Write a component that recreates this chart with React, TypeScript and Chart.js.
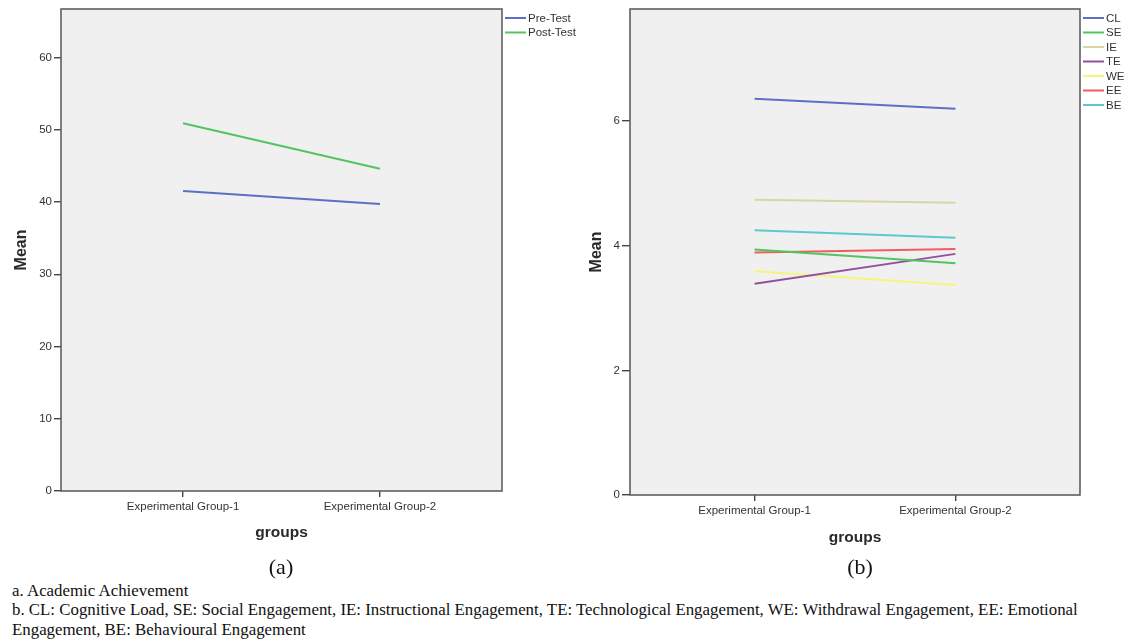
import React, { useEffect, useRef } from "react";
import { Chart, registerables } from "chart.js";

Chart.register(...registerables);

// ---- data ----
const groups = ["Experimental Group-1", "Experimental Group-2"];
const groupPositions = [1, 2];

const achievementSeries = ["Pre-Test", "Post-Test"];
const preTest = [41.5, 39.7];
const postTest = [50.9, 44.6];
const achievementTicks = [0, 10, 20, 30, 40, 50, 60];

const engagementSeries = ["CL", "SE", "IE", "TE", "WE", "EE", "BE"];
const clValues = [6.36, 6.2];
const seValues = [3.94, 3.72];
const ieValues = [4.74, 4.69];
const teValues = [3.39, 3.87];
const weValues = [3.59, 3.37];
const eeValues = [3.89, 3.95];
const beValues = [4.25, 4.13];
const engagementTicks = [0, 2, 4, 6];

// ---- styles ----
const SANS = "'Liberation Sans', Arial, sans-serif";
const COLORS_A = ["#5b70c4", "#52c462"];
const COLORS_B = ["#5b70c4", "#52c462", "#d8d4a6", "#93509f", "#f7f47c", "#ef5d61", "#5ec9cc"];

const panelPlugin = {
  id: "spssPanel",
  beforeDraw(chart: any) {
    const { ctx, chartArea } = chart;
    ctx.save();
    ctx.fillStyle = "#f0f0f0";
    ctx.fillRect(chartArea.left, chartArea.top, chartArea.right - chartArea.left, chartArea.bottom - chartArea.top);
    ctx.restore();
  },
  afterDraw(chart: any) {
    const { ctx, chartArea } = chart;
    ctx.save();
    ctx.strokeStyle = "#5f5f5f";
    ctx.lineWidth = 1.6;
    ctx.strokeRect(chartArea.left, chartArea.top, chartArea.right - chartArea.left, chartArea.bottom - chartArea.top);
    // legend
    const x0 = chartArea.right + 3;
    let y = chartArea.top + 9;
    ctx.font = `11.5px ${SANS}`;
    ctx.textBaseline = "middle";
    ctx.textAlign = "left";
    chart.data.datasets.forEach((ds: any) => {
      ctx.strokeStyle = ds.borderColor;
      ctx.lineWidth = 2;
      ctx.beginPath();
      ctx.moveTo(x0, y);
      ctx.lineTo(x0 + 21, y);
      ctx.stroke();
      ctx.fillStyle = "#333";
      ctx.fillText(ds.label, x0 + 23, y + 0.5);
      y += 14.5;
    });
    ctx.restore();
  },
};

type PanelProps = {
  left: number;
  width: number;
  height: number;
  series: string[];
  values: number[][];
  colors: string[];
  yMax: number;
  yTicks: number[];
  yAxisWidth: number;
  xAxisHeight: number;
  rightPad: number;
  meanPad: number;
  groupsPad: number;
  yTickLen: number;
};

function Panel(p: PanelProps) {
  const ref = useRef<HTMLCanvasElement | null>(null);
  useEffect(() => {
    if (!ref.current) return;
    const chart = new Chart(ref.current, {
      type: "line",
      data: {
        datasets: p.series.map((name, i) => ({
          label: name,
          data: groupPositions.map((x, j) => ({ x, y: p.values[i][j] })),
          borderColor: p.colors[i],
          backgroundColor: p.colors[i],
          borderWidth: 2,
          pointRadius: 0,
          tension: 0,
          fill: false,
        })),
      },
      options: {
        responsive: false,
        animation: false,
        devicePixelRatio: 1,
        layout: { padding: { top: 9, right: p.rightPad, left: 0, bottom: 0 } },
        plugins: { legend: { display: false }, tooltip: { enabled: false } },
        scales: {
          x: {
            type: "linear",
            min: 0.38,
            max: 2.62,
            afterBuildTicks: (s: any) => {
              s.ticks = groupPositions.map((v) => ({ value: v }));
            },
            afterFit: (s: any) => {
              s.height = p.xAxisHeight;
            },
            ticks: {
              autoSkip: false,
              maxRotation: 0,
              padding: 3,
              color: "#333",
              font: { family: SANS, size: 11.5 },
              callback: (v: any) => {
                const k = groupPositions.indexOf(Number(v));
                return k >= 0 ? groups[k] : "";
              },
            },
            grid: { display: true, drawOnChartArea: false, drawTicks: true, tickLength: 6, color: "#444", lineWidth: 1.4 },
            border: { display: false },
            title: {
              display: true,
              text: "groups",
              color: "#2a2a2a",
              font: { family: SANS, size: 15.5, weight: "bold" },
              padding: { top: 0, bottom: p.groupsPad },
            },
          },
          y: {
            type: "linear",
            min: 0,
            max: p.yMax,
            afterBuildTicks: (s: any) => {
              s.ticks = p.yTicks.map((v) => ({ value: v }));
            },
            afterFit: (s: any) => {
              s.width = p.yAxisWidth;
            },
            ticks: { padding: 2, color: "#333", font: { family: SANS, size: 11.5 } },
            grid: { display: true, drawOnChartArea: false, drawTicks: true, tickLength: p.yTickLen, color: "#444", lineWidth: 1.4 },
            border: { display: false },
            title: {
              display: true,
              text: "Mean",
              color: "#2a2a2a",
              font: { family: SANS, size: 16, weight: "bold" },
              padding: { top: p.meanPad, bottom: 0 },
            },
          },
        },
      } as any,
      plugins: [panelPlugin],
    });
    return () => chart.destroy();
  }, []);
  return (
    <canvas
      ref={ref}
      width={p.width}
      height={p.height}
      style={{ position: "absolute", left: p.left, top: 0, width: p.width, height: p.height }}
    />
  );
}

const serif = "'Liberation Serif', 'Times New Roman', serif";

export default function App() {
  return (
    <div style={{ position: "absolute", left: 0, top: 0, width: 1126, height: 640, background: "#fff", overflow: "hidden" }}>
      <Panel
        left={0}
        width={600}
        height={560}
        series={achievementSeries}
        values={[preTest, postTest]}
        colors={COLORS_A}
        yMax={66.7}
        yTicks={achievementTicks}
        yAxisWidth={61}
        xAxisHeight={69}
        rightPad={98}
        meanPad={12}
        groupsPad={18}
        yTickLen={7}
      />
      <Panel
        left={570}
        width={556}
        height={560}
        series={engagementSeries}
        values={[clValues, seValues, ieValues, teValues, weValues, eeValues, beValues]}
        colors={COLORS_B}
        yMax={7.8}
        yTicks={engagementTicks}
        yAxisWidth={60}
        xAxisHeight={65}
        rightPad={46}
        meanPad={16.5}
        groupsPad={13}
        yTickLen={8}
      />
      <div style={{ position: "absolute", left: 281, top: 567, transform: "translate(-50%, -50%)", fontFamily: serif, fontSize: 22, lineHeight: 1, color: "#111" }}>(a)</div>
      <div style={{ position: "absolute", left: 860, top: 567, transform: "translate(-50%, -50%)", fontFamily: serif, fontSize: 22, lineHeight: 1, color: "#111" }}>(b)</div>
      <div style={{ position: "absolute", left: 12, top: 581, fontFamily: serif, fontSize: 16.85, lineHeight: "19.3px", color: "#111", whiteSpace: "nowrap" }}>
        <div>a. Academic Achievement</div>
        <div>b. CL: Cognitive Load, SE: Social Engagement, IE: Instructional Engagement, TE: Technological Engagement, WE: Withdrawal Engagement, EE: Emotional</div>
        <div>Engagement, BE: Behavioural Engagement</div>
      </div>
    </div>
  );
}
